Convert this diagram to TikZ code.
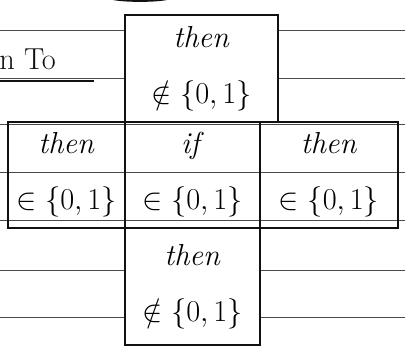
\documentclass[tikz,border=0pt]{standalone}
\usepackage{amsmath}
\usepackage{amssymb}
\usepackage{tikz}
\usetikzlibrary{positioning}
\definecolor{murekkep}{HTML}{111111}
\definecolor{cizgiGri}{HTML}{4A4A4A}

\begin{document}
\begin{tikzpicture}[
  kutu/.style={draw=murekkep,line width=1.6pt,align=center,inner sep=0pt,outer sep=0pt,font=\LARGE},
  cizgi/.style={cizgiGri,line width=0.5pt}]
\useasboundingbox (0,0) rectangle (8.1,7.2);
% ruled paper
\draw[cizgi] (0,6.6)--(8.1,6.6);
\draw[cizgi] (0,5.64)--(8.1,5.64);
\draw[cizgi] (0,4.72)--(8.1,4.72);
\draw[cizgi] (0,3.76)--(8.1,3.76);
\draw[cizgi] (0,2.8)--(8.1,2.8);
\draw[cizgi] (0,1.8)--(8.1,1.8);
\draw[cizgi] (0,0.86)--(8.1,0.86);
% blot at the top
\fill[murekkep] (2.26,7.2) .. controls (2.5,7.15) and (3.1,7.15) .. (3.34,7.2) -- cycle;
% heading
\node[murekkep,font=\LARGE,anchor=base west,inner sep=0pt] (baslik) at (-0.02,5.8) {n To};
\draw[murekkep,line width=1.2pt] (0,5.58)--(1.88,5.58);
% the cross of cells
\node[kutu,minimum width=2.7cm,minimum height=2.12cm] (orta) at (3.85,3.70)
  {\textit{if}\\[10pt]$\in\{0,1\}$};
\node[kutu,minimum width=2.34cm,minimum height=2.12cm,left=0pt of orta] (sol)
  {\textit{then}\\[10pt]$\in\{0,1\}$};
\node[kutu,minimum width=2.76cm,minimum height=2.12cm,right=0pt of orta] (sag)
  {\textit{then}\\[10pt]$\in\{0,1\}$};
\node[kutu,fill=white,minimum width=3.06cm,minimum height=2.14cm,anchor=south west] (ust) at (orta.north west)
  {\textit{then}\\[10pt]$\notin\{0,1\}$};
\node[kutu,fill=white,minimum width=2.7cm,minimum height=2.34cm,below=0pt of orta] (alt)
  {\textit{then}\\[10pt]$\notin\{0,1\}$};
\end{tikzpicture}
\end{document}
